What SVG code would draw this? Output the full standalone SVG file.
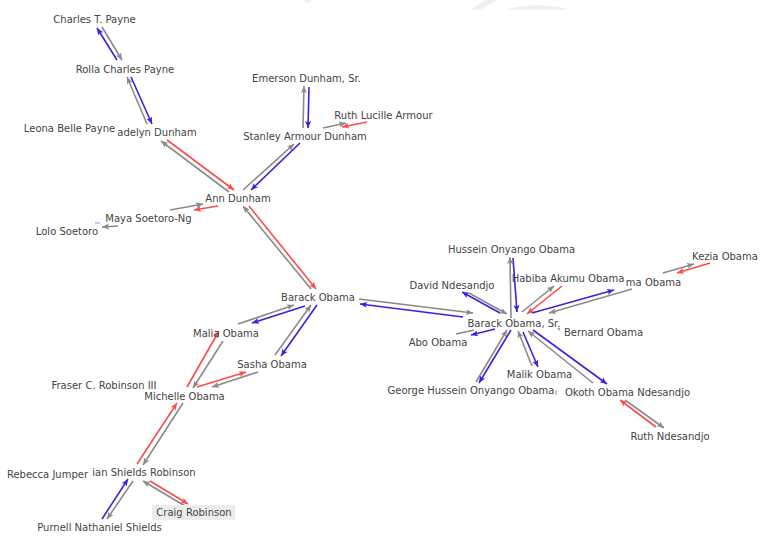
<svg xmlns="http://www.w3.org/2000/svg" width="766" height="550" viewBox="0 0 766 550">
<style>
text{font-family:"DejaVu Sans","Verdana",sans-serif;font-size:10px;fill:#444;text-anchor:middle}
.g{stroke:#8a8a8a;stroke-width:1.6;fill:none}
.b{stroke:#3a22e0;stroke-width:1.6;fill:none}
.r{stroke:#ff4a4a;stroke-width:1.6;fill:none}
.g.a{marker-end:url(#mg)}
.b.a{marker-end:url(#mb)}
.r.a{marker-end:url(#mr)}
</style>
<defs>
<marker id="mg" markerUnits="userSpaceOnUse" markerWidth="8" markerHeight="8" refX="7" refY="4" orient="auto"><path d="M0,1 L7,4 L0,7 L1.5,4 Z" fill="#8a8a8a"/></marker>
<marker id="mb" markerUnits="userSpaceOnUse" markerWidth="8" markerHeight="8" refX="7" refY="4" orient="auto"><path d="M0,1 L7,4 L0,7 L1.5,4 Z" fill="#3a22e0"/></marker>
<marker id="mr" markerUnits="userSpaceOnUse" markerWidth="8" markerHeight="8" refX="7" refY="4" orient="auto"><path d="M0,1 L7,4 L0,7 L1.5,4 Z" fill="#ff4a4a"/></marker>
</defs>
<rect width="766" height="550" fill="#fff"/>
<g id="bg-marks" fill="#f0f0f0">
<path d="M302,0 L312,0 L308,4 Z"/>
<path d="M470,10 L486,0 L498,0 L480,10 Z"/>
<path d="M508,9 Q535,2 565,8 L565,10 L508,10 Z"/>
</g>
<g id="connectors">
<line class="b a" x1="117" y1="60" x2="97" y2="28"/>
<line class="g a" x1="102" y1="27" x2="122" y2="60"/>
<line class="g a" x1="147" y1="124" x2="127" y2="77"/>
<line class="b a" x1="131" y1="77" x2="152" y2="124"/>
<line class="r a" x1="167" y1="140" x2="234" y2="190"/>
<line class="g a" x1="229" y1="192" x2="161" y2="141"/>
<line class="g a" x1="243" y1="190" x2="294" y2="144"/>
<line class="b a" x1="300" y1="143" x2="251" y2="190"/>
<line class="g a" x1="303" y1="128" x2="304" y2="86"/>
<line class="b a" x1="309" y1="87" x2="308" y2="128"/>
<line class="g a" x1="323" y1="128" x2="346" y2="123"/>
<line class="r a" x1="367" y1="122" x2="342" y2="127"/>
<line class="g a" x1="170" y1="210" x2="203" y2="204"/>
<line class="r a" x1="218" y1="206" x2="194" y2="210"/>
<line class="g a" x1="118" y1="226" x2="102" y2="227"/>
<line stroke="#a9a0f0" stroke-width="1.2" x1="95" y1="223" x2="100" y2="223"/>
<line class="g a" x1="311" y1="289" x2="243" y2="206"/>
<line class="r a" x1="249" y1="206" x2="316" y2="289"/>
<line class="g a" x1="238" y1="324" x2="294" y2="305"/>
<line class="b a" x1="305" y1="306" x2="252" y2="323"/>
<line class="g a" x1="275" y1="355" x2="311" y2="305"/>
<line class="b a" x1="317" y1="305" x2="281" y2="356"/>
<line class="r a" x1="187" y1="387" x2="219" y2="331"/>
<line class="g a" x1="223" y1="341" x2="193" y2="388"/>
<line class="r a" x1="197" y1="387" x2="246" y2="372"/>
<line class="g a" x1="258" y1="372" x2="212" y2="387"/>
<line class="r a" x1="137" y1="464" x2="177" y2="403"/>
<line class="g a" x1="183" y1="403" x2="143" y2="465"/>
<line class="b a" x1="102" y1="519" x2="128" y2="479"/>
<line class="g a" x1="133" y1="481" x2="107" y2="519"/>
<line class="g a" x1="185" y1="506" x2="143" y2="481"/>
<line class="r a" x1="150" y1="481" x2="188" y2="504"/>
<line class="g a" x1="359" y1="299" x2="473" y2="313"/>
<line class="b a" x1="463" y1="317" x2="360" y2="304"/>
<line class="g a" x1="511" y1="318" x2="510" y2="257"/>
<line class="b a" x1="513" y1="258" x2="517" y2="312"/>
<line class="b a" x1="500" y1="313" x2="462" y2="292"/>
<line class="g a" x1="469" y1="293" x2="507" y2="314"/>
<line class="g a" x1="522" y1="312" x2="554" y2="286"/>
<line class="r a" x1="562" y1="286" x2="527" y2="314"/>
<line class="b a" x1="532" y1="313" x2="614" y2="290"/>
<line class="g a" x1="632" y1="289" x2="549" y2="313"/>
<line class="g a" x1="663" y1="273" x2="694" y2="264"/>
<line class="r a" x1="710" y1="263" x2="677" y2="273"/>
<line class="g" x1="456" y1="334" x2="474" y2="330"/>
<line class="b a" x1="495" y1="329" x2="471" y2="335"/>
<line class="g a" x1="476" y1="382" x2="507" y2="330"/>
<line class="b a" x1="511" y1="330" x2="479" y2="383"/>
<line class="g a" x1="532" y1="366" x2="518" y2="331"/>
<line class="b a" x1="523" y1="332" x2="538" y2="367"/>
<line class="g a" x1="593" y1="383" x2="528" y2="331"/>
<line class="b a" x1="533" y1="330" x2="607" y2="384"/>
<line class="r a" x1="656" y1="427" x2="620" y2="400"/>
<line class="g a" x1="625" y1="400" x2="664" y2="428"/>
<line class="g" x1="558" y1="328" x2="560" y2="330"/>
</g>
<g id="n-charles"><text x="94.5" y="22.5">Charles T. Payne</text></g>
<g id="n-rolla"><text x="125" y="72.5">Rolla Charles Payne</text></g>
<g id="n-leona"><text x="69.5" y="132">Leona Belle Payne</text></g>
<g id="n-madelyn"><text x="157" y="136">adelyn Dunham</text></g>
<g id="n-emerson"><text x="306.5" y="82">Emerson Dunham, Sr.</text></g>
<g id="n-ruthlucille"><text x="383.5" y="118.5">Ruth Lucille Armour</text></g>
<g id="n-stanley"><text x="305" y="139.5">Stanley Armour Dunham</text></g>
<g id="n-ann"><text x="238" y="201.5">Ann Dunham</text></g>
<g id="n-maya"><text x="148.5" y="222">Maya Soetoro-Ng</text></g>
<g id="n-lolo"><text x="67" y="235">Lolo Soetoro</text></g>
<g id="n-barack"><text x="318" y="301">Barack Obama</text></g>
<g id="n-malia"><text x="226" y="336.5">Malia Obama</text></g>
<g id="n-sasha"><text x="272" y="367.5">Sasha Obama</text></g>
<g id="n-fraser"><text x="104" y="388.5">Fraser C. Robinson III</text></g>
<g id="n-michelle"><text x="184.5" y="400">Michelle Obama</text></g>
<g id="n-rebecca"><text x="47.5" y="477.5">Rebecca Jumper</text></g>
<g id="n-marian"><text x="144" y="476">ian Shields Robinson</text></g>
<g id="n-craig"><rect x="152" y="505" width="83" height="15" fill="#ececec"/><text x="194" y="516">Craig Robinson</text></g>
<g id="n-purnell"><text x="99.5" y="530.5">Purnell Nathaniel Shields</text></g>
<g id="n-hussein"><text x="511.5" y="253">Hussein Onyango Obama</text></g>
<g id="n-david"><text x="452" y="289">David Ndesandjo</text></g>
<g id="n-habiba"><text x="568" y="282">Habiba Akumu Obama</text></g>
<g id="n-auma"><text x="653.5" y="285.5">ma Obama</text></g>
<g id="n-kezia"><text x="725" y="259.5">Kezia Obama</text></g>
<g id="n-baracksr"><text x="514" y="326.5">Barack Obama, Sr.</text></g>
<g id="n-bernard"><text x="603.5" y="336">Bernard Obama</text></g>
<g id="n-abo"><text x="438" y="346">Abo Obama</text></g>
<g id="n-malik"><text x="539.5" y="378">Malik Obama</text></g>
<g id="n-george"><text x="471" y="394">George Hussein Onyango Obama</text></g>
<g id="n-mark"><text x="627.5" y="396">Okoth Obama Ndesandjo</text><line x1="556" y1="390" x2="556" y2="395" stroke="#999" stroke-width="1"/></g>
<g id="n-ruthnd"><text x="670" y="439.5">Ruth Ndesandjo</text></g>
</svg>
